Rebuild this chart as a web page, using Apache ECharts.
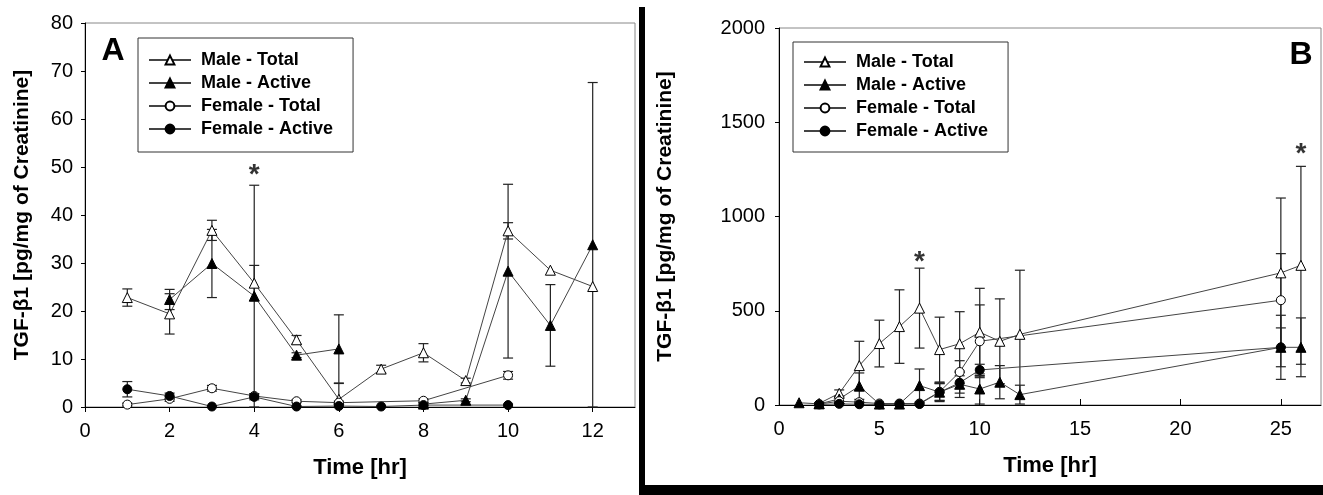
<!DOCTYPE html>
<html>
<head>
<meta charset="utf-8">
<script src="https://cdn.jsdelivr.net/npm/echarts@6/dist/echarts.min.js"></script>
<style>
  html, body { margin: 0; padding: 0; background: #fff; }
  #chart { width: 1323px; height: 495px; }
</style>
</head>
<body>
<div id="chart"></div>
<script>
// panel A, 0-12 hr
var timeA = [1, 2, 3, 4, 5, 6, 7, 8, 9, 10, 11, 12];
var maleTotalA = [22.8, 19.4, 36.8, 25.8, 14.0, 1.6, 7.9, 11.3, 5.5, 36.7, 28.5, 25.1];
var maleTotalErrA = [1.8, 4.2, 2.1, 3.7, 0.9, 3.3, 0.8, 1.9, 0.5, 1.7, 0, 0];
var maleActiveA = [null, 22.4, 29.9, 23.1, 10.8, 12.1, null, 0.6, 1.4, 28.3, 17.0, 33.8];
var maleActiveErrA = [null, 2.1, 7.1, 23.1, 0.5, 7.1, null, 0.3, 0.3, 18.1, 8.5, 33.8];
var femaleTotalA = [0.5, 1.7, 3.9, 2.3, 1.2, 0.9, null, 1.3, null, 6.6, null, null];
var femaleTotalErrA = [0.3, 0.5, 0.6, 0.5, 0.3, 0.3, null, 0.4, null, 0.8, null, null];
var femaleActiveA = [3.7, 2.3, 0.1, 2.1, 0.1, 0.2, 0.1, 0.4, null, 0.4, null, null];
var femaleActiveErrA = [1.6, 0.6, 0.1, 0.6, 0.1, 0.1, 0.1, 0.2, null, 0.2, null, null];

// panel B, 0-26 hr
var timeB = [1, 2, 3, 4, 5, 6, 7, 8, 9, 10, 11, 12, 25, 26];
var maleTotalB = [null, 8, 62, 209, 326, 416, 514, 294, 325, 386, 338, 375, 701, 741];
var maleTotalErrB = [null, 5, 18, 129, 124, 195, 212, 172, 170, 233, 225, 340, 397, 525];
var maleActiveB = [12, 6, 32, 100, 5, 5, 103, 68, 110, 85, 121, 55, 306, 306];
var maleActiveErrB = [0, 0, 15, 70, 0, 0, 88, 45, 70, 80, 88, 50, 170, 156];
var femaleTotalB = [null, 5, 20, 15, 8, 8, 8, 70, 175, 338, null, null, 556, null];
var femaleTotalErrB = [null, 0, 0, 0, 0, 0, 0, 45, 60, 193, null, null, 247, null];
var femaleActiveB = [null, 3, 6, 4, 3, 5, 5, 68, 118, 186, null, null, 306, null];
var femaleActiveErrB = [null, 0, 0, 0, 0, 0, 0, 50, 55, 30, null, null, 103, null];

var xTicksA = [0, 2, 4, 6, 8, 10, 12];
var xTicksB = [0, 5, 10, 15, 20, 25];
var starsA = [[4, 49.5]];
var starsB = [[7, 789], [26, 1363]];
var names = ['Male - Total', 'Male - Active', 'Female - Total', 'Female - Active'];

var FONT = 'Liberation Sans, Arial, sans-serif';

function pairs(xs, ys) {
  return xs.map(function (x, i) { return [x, ys[i] == null ? '-' : ys[i]]; });
}

function lineSeries(name, xs, ys, idx, open, shape, connect) {
  return {
    name: name,
    type: 'line',
    xAxisIndex: idx,
    yAxisIndex: idx,
    data: pairs(xs, ys),
    symbol: shape,
    symbolSize: shape === 'triangle' ? 10 : 9,
    connectNulls: connect,
    lineStyle: { color: '#444', width: 1 },
    itemStyle: { color: open ? '#fff' : '#000', borderColor: '#000', borderWidth: 1 },
    z: 3
  };
}

function errSeries(xs, ys, es, idx) {
  var data = [];
  xs.forEach(function (x, i) {
    if (ys[i] != null && es[i]) data.push([x, Math.max(0, ys[i] - es[i]), ys[i] + es[i]]);
  });
  return {
    type: 'custom',
    xAxisIndex: idx,
    yAxisIndex: idx,
    silent: true,
    z: 2,
    data: data,
    encode: { x: 0, y: [1, 2] },
    renderItem: function (params, api) {
      var lo = api.coord([api.value(0), api.value(1)]);
      var hi = api.coord([api.value(0), api.value(2)]);
      var h = 5;
      var st = { stroke: '#222', lineWidth: 1.2 };
      return {
        type: 'group',
        children: [
          { type: 'line', shape: { x1: lo[0], y1: lo[1], x2: hi[0], y2: hi[1] }, style: st },
          { type: 'line', shape: { x1: lo[0] - h, y1: lo[1], x2: lo[0] + h, y2: lo[1] }, style: st },
          { type: 'line', shape: { x1: hi[0] - h, y1: hi[1], x2: hi[0] + h, y2: hi[1] }, style: st }
        ]
      };
    }
  };
}

// significance marks, drawn as labels on invisible points
function starSeries(pts, idx) {
  return {
    type: 'scatter',
    xAxisIndex: idx,
    yAxisIndex: idx,
    data: pts,
    symbolSize: 2,
    silent: true,
    itemStyle: { color: 'rgba(0,0,0,0)' },
    label: {
      show: true, position: 'inside', formatter: '*', offset: [0, 6],
      fontSize: 28, fontWeight: 'bold', color: '#000', fontFamily: FONT,
      textBorderWidth: 0
    },
    z: 4
  };
}

var nameStyle = { fontFamily: FONT, fontWeight: 'bold', fontSize: 21, color: '#000' };
var labelStyle = { fontFamily: FONT, fontSize: 20, color: '#000' };

function xAxis(idx, max, ticks, inside) {
  return {
    gridIndex: idx, type: 'value', min: 0, max: max,
    name: 'Time [hr]', nameLocation: 'middle', nameGap: 50,
    nameTextStyle: Object.assign({}, nameStyle, { fontSize: 22 }),
    axisLine: { lineStyle: { color: '#000', width: 1 } },
    axisTick: { customValues: ticks, inside: inside, length: inside ? 6 : 5, lineStyle: { color: '#000' } },
    axisLabel: Object.assign({ customValues: ticks, margin: 14 }, labelStyle),
    splitLine: { show: false }
  };
}

function yAxis(idx, max, interval, gap, margin) {
  return {
    gridIndex: idx, type: 'value', min: 0, max: max, interval: interval,
    name: 'TGF-\u03b21 [pg/mg of Creatinine]', nameLocation: 'middle', nameGap: gap,
    nameTextStyle: nameStyle,
    axisLine: { show: true, lineStyle: { color: '#000', width: 1 } },
    axisTick: { show: true, length: 4, lineStyle: { color: '#000' } },
    axisLabel: Object.assign({ margin: margin, formatter: function (v) { return String(v); } }, labelStyle),
    splitLine: { show: false }
  };
}

function legend(left, top, pad) {
  return {
    data: names, orient: 'vertical', left: left, top: top,
    itemWidth: 42, itemHeight: 11, itemGap: 5,
    padding: pad, borderColor: '#333', borderWidth: 1,
    selectedMode: false,
    textStyle: {
      fontFamily: FONT, fontWeight: 'bold', fontSize: 18, lineHeight: 18,
      color: '#000', padding: [0, 0, 0, 5]
    }
  };
}

var chart = echarts.init(document.getElementById('chart'), null, { renderer: 'canvas' });
chart.setOption({
  animation: false,
  backgroundColor: '#fff',
  grid: [
    { left: 85, top: 23, width: 550, height: 384, show: true, borderColor: '#888', borderWidth: 1, outerBoundsMode: 'none' },
    { left: 779, top: 28, width: 542, height: 377, show: true, borderColor: '#888', borderWidth: 1, outerBoundsMode: 'none' }
  ],
  xAxis: [xAxis(0, 13, xTicksA, false), xAxis(1, 27, xTicksB, true)],
  yAxis: [yAxis(0, 80, 10, 52, 12), yAxis(1, 2000, 500, 103, 14)],
  legend: [
    legend(138, 38, [13, 20, 14, 10]),
    legend(793, 42, [11, 20, 12, 10])
  ],
  series: [
    errSeries(timeA, maleTotalA, maleTotalErrA, 0),
    errSeries(timeA, maleActiveA, maleActiveErrA, 0),
    errSeries(timeA, femaleTotalA, femaleTotalErrA, 0),
    errSeries(timeA, femaleActiveA, femaleActiveErrA, 0),
    lineSeries(names[0], timeA, maleTotalA, 0, true, 'triangle', true),
    lineSeries(names[1], timeA, maleActiveA, 0, false, 'triangle', false),
    lineSeries(names[2], timeA, femaleTotalA, 0, true, 'circle', true),
    lineSeries(names[3], timeA, femaleActiveA, 0, false, 'circle', true),
    starSeries(starsA, 0),

    errSeries(timeB, maleTotalB, maleTotalErrB, 1),
    errSeries(timeB, maleActiveB, maleActiveErrB, 1),
    errSeries(timeB, femaleTotalB, femaleTotalErrB, 1),
    errSeries(timeB, femaleActiveB, femaleActiveErrB, 1),
    lineSeries(names[0], timeB, maleTotalB, 1, true, 'triangle', true),
    lineSeries(names[1], timeB, maleActiveB, 1, false, 'triangle', true),
    lineSeries(names[2], timeB, femaleTotalB, 1, true, 'circle', true),
    lineSeries(names[3], timeB, femaleActiveB, 1, false, 'circle', true),
    starSeries(starsB, 1)
  ],
  graphic: [
    { type: 'rect', shape: { x: 639, y: 7, width: 6, height: 488 }, style: { fill: '#000' }, silent: true },
    { type: 'rect', shape: { x: 639, y: 485, width: 684, height: 10 }, style: { fill: '#000' }, silent: true },
    { type: 'text', x: 113, y: 51, style: { text: 'A', fontFamily: FONT, fontWeight: 'bold', fontSize: 32, fill: '#000', align: 'center', verticalAlign: 'middle' }, silent: true },
    { type: 'text', x: 1301, y: 55, style: { text: 'B', fontFamily: FONT, fontWeight: 'bold', fontSize: 32, fill: '#000', align: 'center', verticalAlign: 'middle' }, silent: true }
  ]
});
</script>
</body>
</html>
